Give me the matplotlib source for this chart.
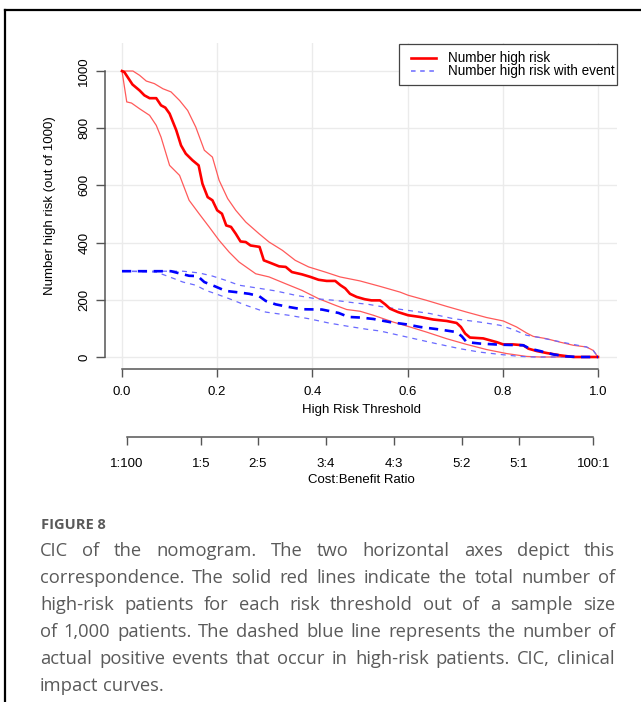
import numpy as np
import matplotlib
matplotlib.use('Agg')
from matplotlib import pyplot as plt
from matplotlib.lines import Line2D
from matplotlib.patches import Rectangle

'''
Data read off the clinical impact curve (CIC)
'''
# Number high risk (median, thick red)
t_risk = [0, 0.005, 0.022, 0.037, 0.047, 0.058, 0.072, 0.082, 0.091, 0.1, 0.114, 0.124, 0.134,
          0.148, 0.161, 0.169, 0.18, 0.19, 0.2, 0.21, 0.219, 0.229, 0.239, 0.249, 0.26, 0.27,
          0.289, 0.298, 0.312, 0.33, 0.344, 0.357, 0.378, 0.396, 0.413, 0.43, 0.448, 0.459,
          0.469, 0.479, 0.493, 0.51, 0.524, 0.542, 0.553, 0.563, 0.58, 0.601, 0.626, 0.654,
          0.682, 0.703, 0.712, 0.721, 0.731, 0.759, 0.787, 0.801, 0.822, 0.843, 0.854, 0.871,
          0.892, 0.92, 0.948, 1.0]
n_risk = [1000, 996, 953, 932, 915, 905, 905, 880, 872, 851, 793, 740, 711,
          688, 670, 606, 559, 548, 513, 501, 460, 455, 431, 404, 402, 390,
          385, 338, 329, 317, 315, 297, 289, 280, 270, 266, 266, 251,
          240, 221, 210, 202, 198, 198, 184, 169, 157, 146, 140, 131,
          126, 119, 105, 82, 68, 65, 52, 44, 44, 41, 29, 21,
          14, 6, 0, 0]

# Upper / lower bounds of number high risk (thin red)
t_risk_hi = [0, 0.023, 0.037, 0.051, 0.068, 0.086, 0.103, 0.121, 0.138, 0.155, 0.173, 0.19, 0.204,
             0.222, 0.239, 0.26, 0.288, 0.309, 0.337, 0.364, 0.392, 0.427, 0.458, 0.5, 0.542,
             0.584, 0.601, 0.64, 0.682, 0.724, 0.766, 0.801, 0.829, 0.85, 0.864, 0.892, 0.92,
             0.948, 0.976, 0.99, 1.0]
n_risk_hi = [1000, 1000, 985, 965, 956, 938, 927, 897, 862, 804, 723, 699, 618,
             554, 513, 472, 431, 402, 373, 338, 315, 297, 280, 266, 247,
             227, 216, 198, 177, 157, 138, 126, 105, 84, 72, 64, 52,
             41, 35, 23, 0]
t_risk_lo = [0, 0.01, 0.02, 0.037, 0.058, 0.072, 0.082, 0.1, 0.121, 0.141, 0.162, 0.183, 0.204,
             0.225, 0.246, 0.281, 0.309, 0.344, 0.378, 0.413, 0.448, 0.472, 0.5, 0.528, 0.57,
             0.601, 0.64, 0.682, 0.724, 0.766, 0.808, 0.85, 0.878, 1.0]
n_risk_lo = [1000, 892, 888, 868, 845, 810, 769, 670, 635, 548, 501, 455, 408,
             367, 332, 291, 280, 256, 233, 204, 181, 166, 160, 146, 122,
             107, 87, 64, 44, 26, 12, 2, 0, 0]

# Number high risk with event (median, thick blue dashed)
t_event = [0, 0.103, 0.117, 0.141, 0.159, 0.173, 0.194, 0.218, 0.239, 0.267, 0.288, 0.302, 0.323,
           0.35, 0.378, 0.42, 0.455, 0.476, 0.5, 0.528, 0.563, 0.598, 0.626, 0.668, 0.703,
           0.714, 0.724, 0.752, 0.794, 0.843, 0.857, 0.878, 0.906, 0.934, 0.962, 1.0]
n_event = [300, 300, 294, 284, 283, 262, 248, 231, 227, 221, 213, 196, 184,
           175, 167, 166, 154, 140, 138, 133, 122, 114, 105, 96, 87,
           72, 52, 47, 43, 41, 29, 21, 9, 2, 0, 0]

# Upper / lower bounds of number high risk with event (thin blue dashed)
t_event_hi = [0, 0.128, 0.162, 0.19, 0.218, 0.246, 0.281, 0.323, 0.364, 0.406, 0.448, 0.49, 0.518,
              0.549, 0.601, 0.647, 0.696, 0.752, 0.794, 0.822, 0.85, 0.878, 0.906, 0.948,
              0.976, 0.99, 1.0]
n_event_hi = [300, 300, 294, 283, 268, 251, 242, 231, 216, 204, 198, 189, 184,
              175, 163, 152, 134, 122, 111, 96, 76, 68, 58, 44,
              35, 23, 0]
t_event_lo = [0, 0.072, 0.1, 0.128, 0.155, 0.176, 0.197, 0.225, 0.26, 0.302, 0.35, 0.392, 0.434,
              0.476, 0.518, 0.542, 0.598, 0.654, 0.71, 0.752, 0.794, 0.836, 0.864, 1.0]
n_event_lo = [300, 297, 280, 262, 251, 233, 221, 204, 181, 157, 146, 134, 119,
              107, 96, 91, 70, 49, 29, 17, 9, 2, 0, 0]

x_ticks = [0.0, 0.2, 0.4, 0.6, 0.8, 1.0]
y_ticks = [0, 200, 400, 600, 800, 1000]
cb_labels = ['1:100', '1:5', '2:5', '3:4', '4:3', '5:2', '5:1', '100:1']
cb_cost = [1, 1, 2, 3, 4, 5, 5, 100]
cb_benefit = [100, 5, 5, 4, 3, 2, 1, 1]
legend_labels = ['Number high risk', 'Number high risk with event']

caption_title = 'FIGURE 8'
caption_lines = [
    'CIC of the nomogram. The two horizontal axes depict this',
    'correspondence. The solid red lines indicate the total number of',
    'high-risk patients for each risk threshold out of a sample size',
    'of 1,000 patients. The dashed blue line represents the number of',
    'actual positive events that occur in high-risk patients. CIC, clinical',
    'impact curves.',
]

'''
Figure
'''
W, H = 641, 702
fig = plt.figure(figsize=(W / 100, H / 100), dpi=100)
fig.patch.set_facecolor('white')

def fx(px):
    return px / W

def fy(py):
    return 1 - py / H

# frame of the figure panel (top and left edges)
fig.add_artist(Line2D([fx(5), 1.0], [fy(10), fy(10)], color='black', lw=1.6))
fig.add_artist(Line2D([fx(5), fx(5)], [fy(10), 0.0], color='black', lw=1.6))

plt.rcParams['font.family'] = ['Liberation Sans', 'DejaVu Sans']
axis_grey = '#555555'

ax = fig.add_axes([fx(105), fy(368), fx(617) - fx(105), fy(43) - fy(368)])
ax.set_xlim(-0.0357, 1.04)
ax.set_ylim(-38.5, 1098)
for g in x_ticks:
    ax.axvline(g, color='#ebebeb', lw=1.0, zorder=0)
for g in y_ticks:
    ax.axhline(g, color='#ebebeb', lw=1.0, zorder=0)

light_red = '#ff5a5a'
light_blue = '#6a6aff'
ax.plot(t_risk_hi, n_risk_hi, color=light_red, lw=0.9)
ax.plot(t_risk_lo, n_risk_lo, color=light_red, lw=0.9)
ax.plot(t_event_hi, n_event_hi, color=light_blue, lw=0.9, linestyle=(0, (4, 4)))
ax.plot(t_event_lo, n_event_lo, color=light_blue, lw=0.9, linestyle=(0, (4, 4)))
ax.plot(t_risk, n_risk, color='red', lw=1.9)
ax.plot(t_event, n_event, color='blue', lw=1.9, linestyle=(0, (3.5, 2.5)))

for side in ['top', 'right']:
    ax.spines[side].set_visible(False)
ax.spines['left'].set_bounds(0, 1000)
ax.spines['bottom'].set_bounds(0, 1)
ax.spines['left'].set_color(axis_grey)
ax.spines['bottom'].set_color(axis_grey)
ax.spines['left'].set_linewidth(1.1)
ax.spines['bottom'].set_linewidth(1.1)
ax.spines['bottom'].set_position(('outward', 1))

ax.set_yticks(y_ticks)
ax.set_yticklabels([str(v) for v in y_ticks], rotation=90, va='center', fontsize=9.5)
ax.set_xticks(x_ticks)
ax.set_xticklabels(['%.1f' % v for v in x_ticks], fontsize=9.5)
ax.tick_params(axis='y', length=6.5, width=1.0, color=axis_grey, pad=4)
ax.tick_params(axis='x', length=6, width=1.0, color=axis_grey, pad=6)
ax.set_xlabel('High Risk Threshold', fontsize=9.5, labelpad=4)
ax.set_ylabel('Number high risk (out of 1000)', fontsize=9.5, labelpad=16)

# second horizontal axis: cost:benefit ratio
ax2 = fig.add_axes([fx(105), fy(437), fx(617) - fx(105), 0.001])
ax2.set_xlim(ax.get_xlim())
ax2.set_ylim(0, 1)
ax2.patch.set_visible(False)
for side in ['top', 'right', 'left']:
    ax2.spines[side].set_visible(False)
cb_pos = [c / (c + b) for c, b in zip(cb_cost, cb_benefit)]
ax2.spines['bottom'].set_bounds(cb_pos[0], cb_pos[-1])
ax2.spines['bottom'].set_color(axis_grey)
ax2.spines['bottom'].set_linewidth(1.1)
ax2.set_yticks([])
ax2.set_xticks(cb_pos)
ax2.set_xticklabels(cb_labels, fontsize=9.5)
ax2.tick_params(axis='x', length=6, width=1.0, color=axis_grey, pad=9)
ax2.set_xlabel('Cost:Benefit Ratio', fontsize=9.5, labelpad=3)

# legend, drawn by hand to get the tight R line spacing
fig.add_artist(Rectangle((fx(399), fy(85)), fx(617) - fx(399), fy(44) - fy(85),
                         facecolor='white', edgecolor='#444444', lw=0.9, zorder=5))
fig.add_artist(Line2D([fx(411), fx(436)], [fy(58), fy(58)], color='red', lw=1.9, zorder=6))
fig.add_artist(Line2D([fx(411), fx(436)], [fy(70.5), fy(70.5)], color=light_blue, lw=1.1,
                      linestyle=(0, (3, 3)), zorder=6))
for i, lab in enumerate(legend_labels):
    fig.text(fx(448), fy(58 + 12.5 * i), lab, fontsize=9.75, color='black',
             va='center', ha='left', zorder=7)

# caption, justified
cap_color = '#5a5a5a'
cap_font = ['Open Sans', 'DejaVu Sans']
cap_size = 13.2
fig.text(fx(41), fy(525), caption_title, fontsize=10.5, fontweight='bold',
         color=cap_color, family=cap_font, va='center', ha='left')

renderer = fig.canvas.get_renderer()

def text_width(s):
    t = fig.text(0, 0, s, fontsize=cap_size, family=cap_font)
    w = t.get_window_extent(renderer).width
    t.remove()
    return w

space_w = text_width('a a') - text_width('aa')
x_left, x_right = 40, 615
for i, line in enumerate(caption_lines):
    y = 551 + i * 27
    words = line.split(' ')
    widths = [text_width(w) for w in words]
    if i < len(caption_lines) - 1:
        gap = (x_right - x_left - sum(widths)) / (len(words) - 1)
    else:
        gap = space_w
    xpos = x_left
    for word, w in zip(words, widths):
        fig.text(fx(xpos), fy(y), word, fontsize=cap_size, family=cap_font,
                 color=cap_color, va='center', ha='left')
        xpos += w + gap

fig.savefig('out.png', dpi=100)
